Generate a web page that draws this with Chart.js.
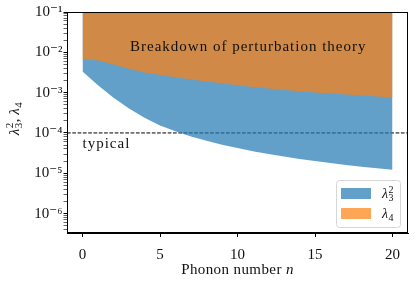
<!DOCTYPE html>
<html lang="en">
<head>
<meta charset="UTF-8">
<title>Breakdown of perturbation theory</title>
<script src="https://cdn.jsdelivr.net/npm/chart.js"></script>
<style>
    html, body { margin: 0; padding: 0; background: #fff; }
    #wrap { width: 415px; height: 284px; }
</style>
</head>
<body>
<div id="wrap"><canvas id="chart" width="415" height="284"></canvas></div>
<script>
    // data
    const phononN = [0, 1, 2, 3, 4, 5, 6, 7, 8, 9, 10, 11, 12, 13, 14, 15, 16, 17, 18, 19, 20];
    const lambda3SqLower = [3.35e-3, 1.53e-3, 7.5e-4, 4.03e-4, 2.37e-4, 1.53e-4, 1.1e-4, 8.2e-5, 6.38e-5, 5.13e-5,
        4.22e-5, 3.53e-5, 3.01e-5, 2.59e-5, 2.27e-5, 2.01e-5, 1.79e-5, 1.61e-5, 1.46e-5, 1.33e-5, 1.22e-5];
    const lambda4Lower = [6.9e-3, 6.3e-3, 5.0e-3, 3.89e-3, 3.16e-3, 2.72e-3, 2.4e-3, 2.11e-3, 1.88e-3, 1.7e-3,
        1.53e-3, 1.38e-3, 1.26e-3, 1.16e-3, 1.08e-3, 1.01e-3, 9.5e-4, 9.0e-4, 8.45e-4, 8.0e-4, 7.6e-4];
    const typicalLevel = 1e-4;
    const xTicks = [0, 5, 10, 15, 20];
    const yTickValues = [1e-6, 1e-5, 1e-4, 1e-3, 1e-2, 1e-1];
    const yTickLabels = ['10⁻⁶', '10⁻⁵', '10⁻⁴', '10⁻³', '10⁻²', '10⁻¹'];

    const SERIF = '"Liberation Serif", "DejaVu Serif", serif';
    const BLUE = 'rgba(31,119,180,0.7)';
    const ORANGE = 'rgba(255,127,14,0.7)';

    const toPts = arr => phononN.map((n, i) => ({ x: n, y: arr[i] }));

    // lambda with stacked sub/superscript, returns width
    function drawLambda(ctx, x, y, sub, sup, size, measureOnly) {
        ctx.font = 'italic ' + size + 'px ' + SERIF;
        const w0 = ctx.measureText('λ').width;
        const small = Math.round(size * 0.7);
        ctx.font = small + 'px ' + SERIF;
        const w1 = Math.max(ctx.measureText(sub).width, sup ? ctx.measureText(sup).width : 0);
        if (!measureOnly) {
            ctx.font = 'italic ' + size + 'px ' + SERIF;
            ctx.fillText('λ', x, y);
            ctx.font = small + 'px ' + SERIF;
            ctx.fillText(sub, x + w0 + 0.5, y + size * 0.22);
            if (sup) ctx.fillText(sup, x + w0 + 0.5, y - size * 0.38);
        }
        return w0 + w1 + 1;
    }

    const decor = {
        id: 'decor',
        afterDraw(chart) {
            const ctx = chart.ctx;
            const a = chart.chartArea;
            const xs = chart.scales.x;
            ctx.save();
            // frame
            ctx.strokeStyle = '#000';
            ctx.lineWidth = 1;
            ctx.strokeRect(a.left + 0.5, a.top + 0.5, a.right - a.left - 1, a.bottom - a.top - 1);

            ctx.fillStyle = '#111';
            ctx.textBaseline = 'alphabetic';
            ctx.textAlign = 'left';
            ctx.letterSpacing = '1px';
            ctx.font = '15px ' + SERIF;
            ctx.fillText('Breakdown of perturbation theory', 130, 51);
            ctx.fillText('typical', xs.getPixelForValue(0), 148);

            // x title
            ctx.letterSpacing = '0.4px';
            ctx.font = '15px ' + SERIF;
            const t1 = 'Phonon number ';
            const w1 = ctx.measureText(t1).width;
            ctx.font = 'italic 15px ' + SERIF;
            const w2 = ctx.measureText('n').width;
            const cx = (a.left + a.right) / 2;
            const sx = cx - (w1 + w2) / 2;
            ctx.font = '15px ' + SERIF;
            ctx.fillText(t1, sx, 274);
            ctx.font = 'italic 15px ' + SERIF;
            ctx.fillText('n', sx + w1, 274);
            ctx.letterSpacing = '0px';

            // y title (rotated)
            ctx.save();
            ctx.translate(18.5, (a.top + a.bottom) / 2 - 4);
            ctx.rotate(-Math.PI / 2);
            const lw1 = drawLambda(ctx, 0, 0, '3', '2', 15, true);
            ctx.font = '15px ' + SERIF;
            const cw = ctx.measureText(', ').width;
            const lw2 = drawLambda(ctx, 0, 0, '4', null, 15, true);
            const px = -(lw1 + cw + lw2) / 2;
            drawLambda(ctx, px, 0, '3', '2', 15);
            ctx.font = '15px ' + SERIF;
            ctx.fillText(',', px + lw1, 0);
            drawLambda(ctx, px + lw1 + cw, 0, '4', null, 15);
            ctx.restore();

            // legend
            const lx = 336, ly = 180, lwid = 64, lh = 47;
            ctx.beginPath();
            ctx.roundRect(lx + 0.5, ly + 0.5, lwid, lh, 3);
            ctx.fillStyle = 'rgba(255,255,255,0.8)';
            ctx.fill();
            ctx.strokeStyle = '#d6d6d6';
            ctx.lineWidth = 1;
            ctx.stroke();
            const items = [chart.data.datasets[1], chart.data.datasets[0]];
            const subs = [['3', '2'], ['4', null]];
            items.forEach((ds, i) => {
                const y = ly + 8 + i * 20;
                ctx.fillStyle = ds.backgroundColor;
                ctx.fillRect(lx + 5, y, 30, 11);
                ctx.fillStyle = '#111';
                drawLambda(ctx, lx + 46, y + 10, subs[i][0], subs[i][1], 14);
            });
            ctx.restore();
        }
    };

    new Chart(document.getElementById('chart'), {
        type: 'line',
        data: {
            datasets: [
                {
                    label: 'λ4',
                    data: toPts(lambda4Lower),
                    backgroundColor: ORANGE,
                    borderColor: 'rgba(0,0,0,0)',
                    borderWidth: 0,
                    pointRadius: 0,
                    tension: 0,
                    fill: 'end'
                },
                {
                    label: 'λ3²',
                    data: toPts(lambda3SqLower),
                    backgroundColor: BLUE,
                    borderColor: 'rgba(0,0,0,0)',
                    borderWidth: 0,
                    pointRadius: 0,
                    tension: 0,
                    fill: 'end'
                },
                {
                    label: 'typical',
                    data: [{ x: -1, y: typicalLevel }, { x: 21, y: typicalLevel }],
                    borderColor: '#000',
                    borderWidth: 1,
                    borderDash: [3.7, 1.6],
                    pointRadius: 0,
                    fill: false
                }
            ]
        },
        options: {
            responsive: false,
            animation: false,
            events: [],
            layout: { padding: { left: 0, right: 7, top: 12, bottom: 0 } },
            plugins: { legend: { display: false }, tooltip: { enabled: false } },
            scales: {
                x: {
                    type: 'linear',
                    min: -1,
                    max: 21,
                    afterBuildTicks: s => { s.ticks = xTicks.map(v => ({ value: v })); },
                    afterFit: s => { s.height = 51; },
                    grid: { display: true, drawOnChartArea: false, tickLength: 4, color: '#000', tickColor: '#000' },
                    border: { display: true, color: '#000' },
                    ticks: { color: '#111', padding: 9, font: { family: SERIF, size: 15 }, maxRotation: 0 }
                },
                y: {
                    type: 'logarithmic',
                    min: 3.3e-7,
                    max: 0.1,
                    afterBuildTicks: s => {
                        const t = [];
                        for (let k = -7; k <= -1; k++) {
                            for (let m = 1; m <= 9; m++) {
                                const v = m * Math.pow(10, k);
                                if (v >= s.min * 0.999 && v <= s.max * 1.001) t.push({ value: v, major: m === 1 });
                            }
                        }
                        s.ticks = t;
                    },
                    afterFit: s => { s.width = 67; },
                    grid: {
                        display: true, drawOnChartArea: false, tickLength: 3.5, color: '#000',
                        tickColor: '#000',
                        tickWidth: c => (c.tick && c.tick.major ? 1 : 0.6)
                    },
                    border: { display: true, color: '#000' },
                    ticks: {
                        color: '#111',
                        padding: 1,
                        autoSkip: false,
                        font: { family: SERIF, size: 15 },
                        callback: v => {
                            const i = yTickValues.findIndex(t => Math.abs(Math.log10(t) - Math.log10(v)) < 1e-6);
                            return i >= 0 ? yTickLabels[i] : '';
                        }
                    }
                }
            }
        },
        plugins: [decor]
    });
</script>
</body>
</html>
